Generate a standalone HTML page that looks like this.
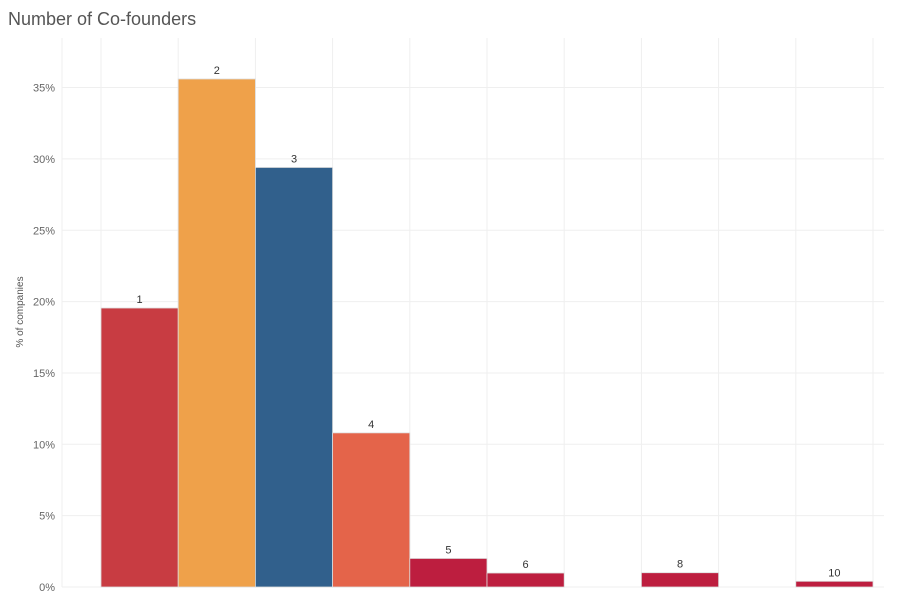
<!DOCTYPE html>
<html><head><meta charset="utf-8"><style>
body{margin:0;background:#fff;font-family:"Liberation Sans",sans-serif;}
</style></head><body>
<svg id="chart" width="904" height="606" xmlns="http://www.w3.org/2000/svg">
<text x="8" y="25" font-size="18" fill="#555" font-family="Liberation Sans, sans-serif">Number of Co-founders</text>
<text transform="translate(23,312) rotate(-90)" text-anchor="middle" font-size="10" fill="#555">% of companies</text>
<g id="grid"></g><g id="bars"></g>
</svg>
<script>
const categories=[1,2,3,4,5,6,7,8,9,10];
const values=[19.55,35.6,29.4,10.8,2.0,0.98,0,1.0,0,0.4];
const colors=["#c83c42","#efa14a","#31608c","#e4644a","#bd1e3f","#bd1e3f","#bd1e3f","#bd1e3f","#bd1e3f","#bd1e3f"];
const yTicks=[0,5,10,15,20,25,30,35];
const NS="http://www.w3.org/2000/svg";
const x0=101,bw=77.2,yBase=587,pxPer=14.27;
const y=v=>yBase-v*pxPer;
const xs=i=>x0+i*bw;
const grid=document.getElementById('grid'),bars=document.getElementById('bars');
function mk(tag,attrs,parent){const e=document.createElementNS(NS,tag);for(const k in attrs)e.setAttribute(k,attrs[k]);parent.appendChild(e);return e;}
yTicks.forEach(t=>{
 const l=mk('line',{x1:62,x2:884,y1:y(t),y2:y(t),stroke:'#efefef'},grid);
 
 
 const tx=mk('text',{x:55,y:y(t)+4,'text-anchor':'end','font-size':11,fill:'#666'},grid);
 tx.textContent=t+'%';
 
 
});
[62].concat(categories.map((c,i)=>xs(i))).concat([xs(categories.length)]).forEach(x=>{
 const l=mk('line',{x1:x,x2:x,y1:38,y2:yBase,stroke:'#efefef'},grid);
 
 
});
categories.forEach((c,i)=>{
 if(values[i]<=0)return;
 const r=mk('rect',{x:xs(i),y:y(values[i]),width:bw,height:yBase-y(values[i]),fill:colors[i],stroke:'#ddd','stroke-width':0.8},bars);
 
 
 const t=mk('text',{x:xs(i)+bw/2,y:y(values[i])-5,'text-anchor':'middle','font-size':11,fill:'#333'},bars);
 t.textContent=c;
 
 
});
</script>
</body></html>
